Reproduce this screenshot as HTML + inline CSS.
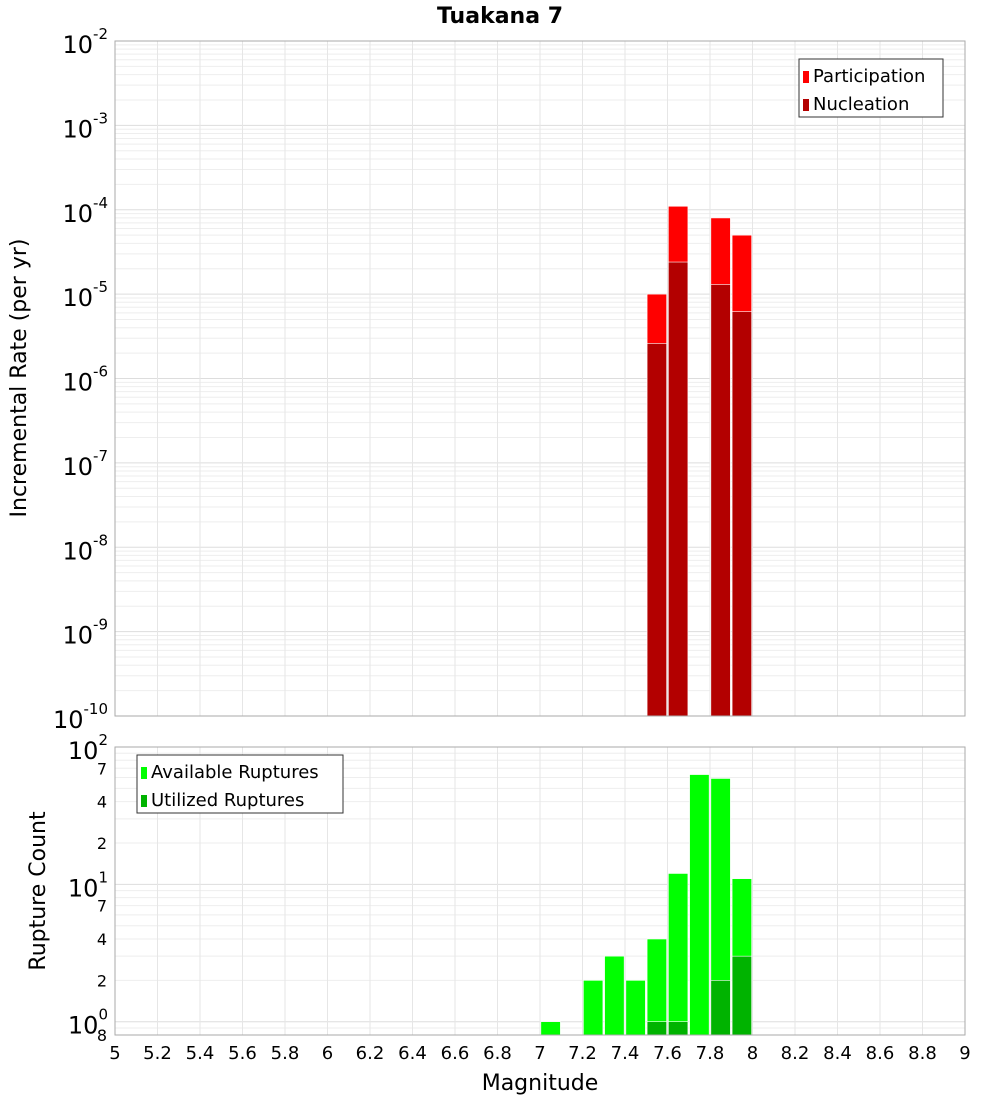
<!DOCTYPE html>
<html><head><meta charset="utf-8"><style>
body{margin:0;background:#fff;font-family:"Liberation Sans","DejaVu Sans",sans-serif}
svg text{font-family:"DejaVu Sans","Liberation Sans",sans-serif}
</style></head><body>
<svg id="c" width="1000" height="1100" xmlns="http://www.w3.org/2000/svg"></svg>
<script>
const binCenters=[7.55,7.65,7.85,7.95];
const participation=[1e-5,1.1e-4,8e-5,5e-5];
const nucleation=[2.6e-6,2.4e-5,1.3e-5,6.2e-6];
const countCenters=[7.05,7.25,7.35,7.45,7.55,7.65,7.75,7.85,7.95];
const available=[1,2,3,2,4,12,63,59,11];
const utilCenters=[7.55,7.65,7.85,7.95];
const utilized=[1,1,2,3];
const xTicks=[5,5.2,5.4,5.6,5.8,6,6.2,6.4,6.6,6.8,7,7.2,7.4,7.6,7.8,8,8.2,8.4,8.6,8.8,9];
const topExps=[-2,-3,-4,-5,-6,-7,-8,-9,-10];
const botMinor=[7,4,2,7,4,2];
const botMinorVals=[70,40,20,7,4,2];

const NS="http://www.w3.org/2000/svg",svg=document.getElementById('c');
function el(t,a,p){const e=document.createElementNS(NS,t);for(const k in a)e.setAttribute(k,a[k]);(p||svg).appendChild(e);return e;}
const L=115,R=965,T1=41,B1=716,T2=747,B2=1035;
const X=v=>L+(v-5)/4*(R-L);
const Y1=v=>T1+(-2-Math.log10(v))/8*(B1-T1);
const lo2=Math.log10(0.8),hi2=2;
const Y2=v=>B2-(Math.log10(v)-lo2)/(hi2-lo2)*(B2-T2);

// title
let t=el('text',{x:500,y:23,'text-anchor':'middle','font-size':22,'font-weight':'bold'});t.textContent='Tuakana 7';


// grids top
for(let e=-10;e<-2;e++)for(let m=1;m<10;m++){const y=Y1(m*Math.pow(10,e));el('line',{x1:L,x2:R,y1:y,y2:y,stroke:m==1?'#ddd':'#eee','stroke-width':1});}
for(let e=-1;e<2;e++)for(let m=1;m<10;m++){const v=m*Math.pow(10,e);if(v<0.8||v>100)continue;const y=Y2(v);el('line',{x1:L,x2:R,y1:y,y2:y,stroke:m==1?'#ddd':'#eee'});}
xTicks.forEach(v=>{el('line',{x1:X(v),x2:X(v),y1:T1,y2:B1,stroke:'#e6e6e6'});el('line',{x1:X(v),x2:X(v),y1:T2,y2:B2,stroke:'#e6e6e6'});});

const bw=0.092;
function bar(c,v,Y,bot,fill,name){const x0=X(c-bw/2),x1=X(c+bw/2),y=Y(v);const r=el('rect',{x:x0,y:y,width:x1-x0,height:bot-y,fill:fill,stroke:'#fff','stroke-width':0.6});}
participation.forEach((v,i)=>bar(binCenters[i],v,Y1,B1,'#ff0000','participation-bar'));
nucleation.forEach((v,i)=>bar(binCenters[i],v,Y1,B1,'#b30000','nucleation-bar'));
available.forEach((v,i)=>bar(countCenters[i],v,Y2,B2,'#00ff00','available-bar'));
utilized.forEach((v,i)=>bar(utilCenters[i],v,Y2,B2,'#00b300','utilized-bar'));

el('rect',{x:L,y:T1,width:R-L,height:B1-T1,fill:'none',stroke:'#aaa'});
el('rect',{x:L,y:T2,width:R-L,height:B2-T2,fill:'none',stroke:'#aaa'});

// top y ticks
topExps.forEach(e=>{const y=Y1(Math.pow(10,e));const g=el('text',{x:108,y:y+12,'text-anchor':'end','font-size':24});
 
 const a=el('tspan',{},g);a.textContent='10';const b=el('tspan',{'font-size':15,dy:-14},g);b.textContent=String(e);});
// bottom y ticks
[[100,'2'],[10,'1'],[1,'0']].forEach(([v,e])=>{const y=Y2(v);const g=el('text',{x:108,y:y+12,'text-anchor':'end','font-size':24});
 
 const a=el('tspan',{},g);a.textContent='10';const b=el('tspan',{'font-size':15,dy:-14},g);b.textContent=e;});
botMinorVals.forEach((v,i)=>{const tt=el('text',{x:107,y:Y2(v)+6,'text-anchor':'end','font-size':16});tt.textContent=botMinor[i];
 });
t=el('text',{x:107,y:Y2(0.8)+6,'text-anchor':'end','font-size':16});t.textContent='8';

// x ticks
xTicks.forEach(v=>{const tt=el('text',{x:X(v),y:1059,'text-anchor':'middle','font-size':18});tt.textContent=String(Math.round(v*10)/10);
 });
t=el('text',{x:540,y:1090,'text-anchor':'middle','font-size':22});t.textContent='Magnitude';

t=el('text',{x:0,y:0,'text-anchor':'middle','font-size':22,transform:'translate(26,378) rotate(-90)'});t.textContent='Incremental Rate (per yr)';

t=el('text',{x:0,y:0,'text-anchor':'middle','font-size':22,transform:'translate(45,891) rotate(-90)'});t.textContent='Rupture Count';


// legends
function legend(x,y,w,items,name){const g=el('g',{});
 el('rect',{x:x,y:y,width:w,height:58,fill:'#fff',stroke:'#333'},g);
 items.forEach(([lab,col],i)=>{el('rect',{x:x+4,y:y+12+i*28,width:6,height:12,fill:col},g);const tt=el('text',{x:x+14,y:y+23+i*28,'font-size':18},g);tt.textContent=lab;});}
legend(799,59,144,[['Participation','#ff0000'],['Nucleation','#b30000']],'rate-legend');
legend(137,755,206,[['Available Ruptures','#00ff00'],['Utilized Ruptures','#00b300']],'count-legend');
</script>
</body></html>
